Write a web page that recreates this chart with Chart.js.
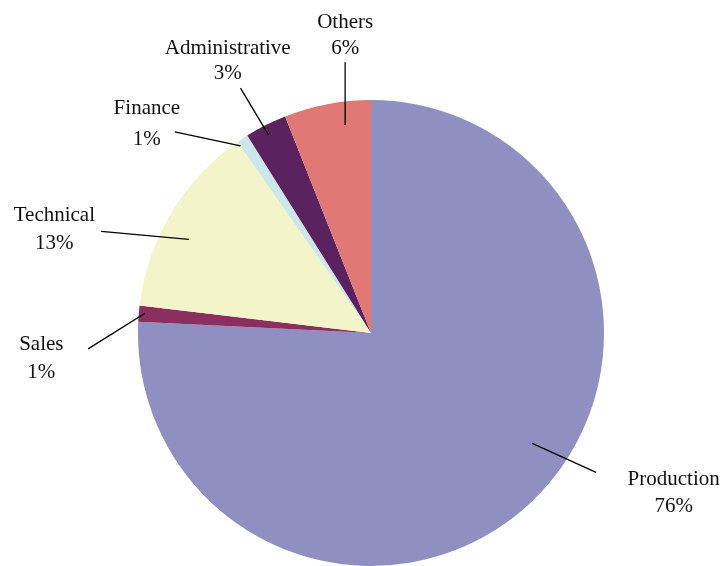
<!DOCTYPE html>
<html>
<head>
<meta charset="utf-8">
<script src="https://cdn.jsdelivr.net/npm/chart.js@4"></script>
<style>
  html, body { margin: 0; padding: 0; background: #fff; overflow: hidden; }
  #wrap { width: 726px; height: 566px; position: relative; }
</style>
</head>
<body>
<div id="wrap"><canvas id="pieCanvas" width="726" height="566"></canvas></div>
<script>
// slice data, clockwise from 12 o'clock
const departments = ['Production', 'Sales', 'Technical', 'Finance', 'Administrative', 'Others'];
const shares = [75.7, 1.1, 13.4, 0.8, 2.9, 6.0];
const sliceColors = ['#8f90c1', '#8b2f5e', '#f3f4c9', '#cde6ea', '#5a2360', '#e07876'];

// label layout, in units of the pie radius relative to its centre
// [lineStartX, lineStartY, lineEndX, lineEndY, textX, textY, lineGap(px)]
const labelLayout = [
    [0.692, 0.474, 0.966, 0.598, 1.299, 0.630, 27],
    [-0.970, -0.085, -1.214, 0.068, -1.415, 0.049, 28],
    [-0.782, -0.402, -1.158, -0.436, -1.359, -0.503, 28],
    [-0.560, -0.803, -0.842, -0.863, -0.962, -0.964, 31],
    [-0.440, -0.850, -0.560, -1.051, -0.615, -1.220, 25],
    [-0.111, -0.893, -0.111, -1.162, -0.111, -1.332, 26],
];

const total = shares.reduce((a, b) => a + b, 0);

const calloutLabels = {
    id: 'calloutLabels',
    afterDatasetsDraw(chart) {
        const ctx = chart.ctx;
        const meta = chart.getDatasetMeta(0);
        ctx.save();
        ctx.strokeStyle = '#000';
        ctx.lineWidth = 1.3;
        ctx.fillStyle = '#111';
        ctx.font = '21px "Liberation Serif", "DejaVu Serif", serif';
        ctx.textAlign = 'center';
        ctx.textBaseline = 'middle';
        meta.data.forEach((arc, i) => {
            const cx = arc.x, cy = arc.y, r = arc.outerRadius;
            const l = labelLayout[i];
            ctx.beginPath();
            ctx.moveTo(cx + l[0] * r, cy + l[1] * r);
            ctx.lineTo(cx + l[2] * r, cy + l[3] * r);
            ctx.stroke();
            const pct = Math.round(shares[i] / total * 100) + '%';
            ctx.fillText(departments[i], cx + l[4] * r, cy + l[5] * r);
            ctx.fillText(pct, cx + l[4] * r, cy + l[5] * r + l[6]);
        });
        ctx.restore();
    }
};

new Chart(document.getElementById('pieCanvas').getContext('2d'), {
    type: 'pie',
    data: {
        labels: departments,
        datasets: [{
            data: shares,
            backgroundColor: sliceColors,
            borderWidth: 0,
        }],
    },
    options: {
        responsive: false,
        animation: false,
        layout: { padding: { left: 137, right: 121, top: 100, bottom: -2 } },
        plugins: {
            legend: { display: false },
            tooltip: { enabled: false },
        },
    },
    plugins: [calloutLabels],
});
</script>
</body>
</html>
